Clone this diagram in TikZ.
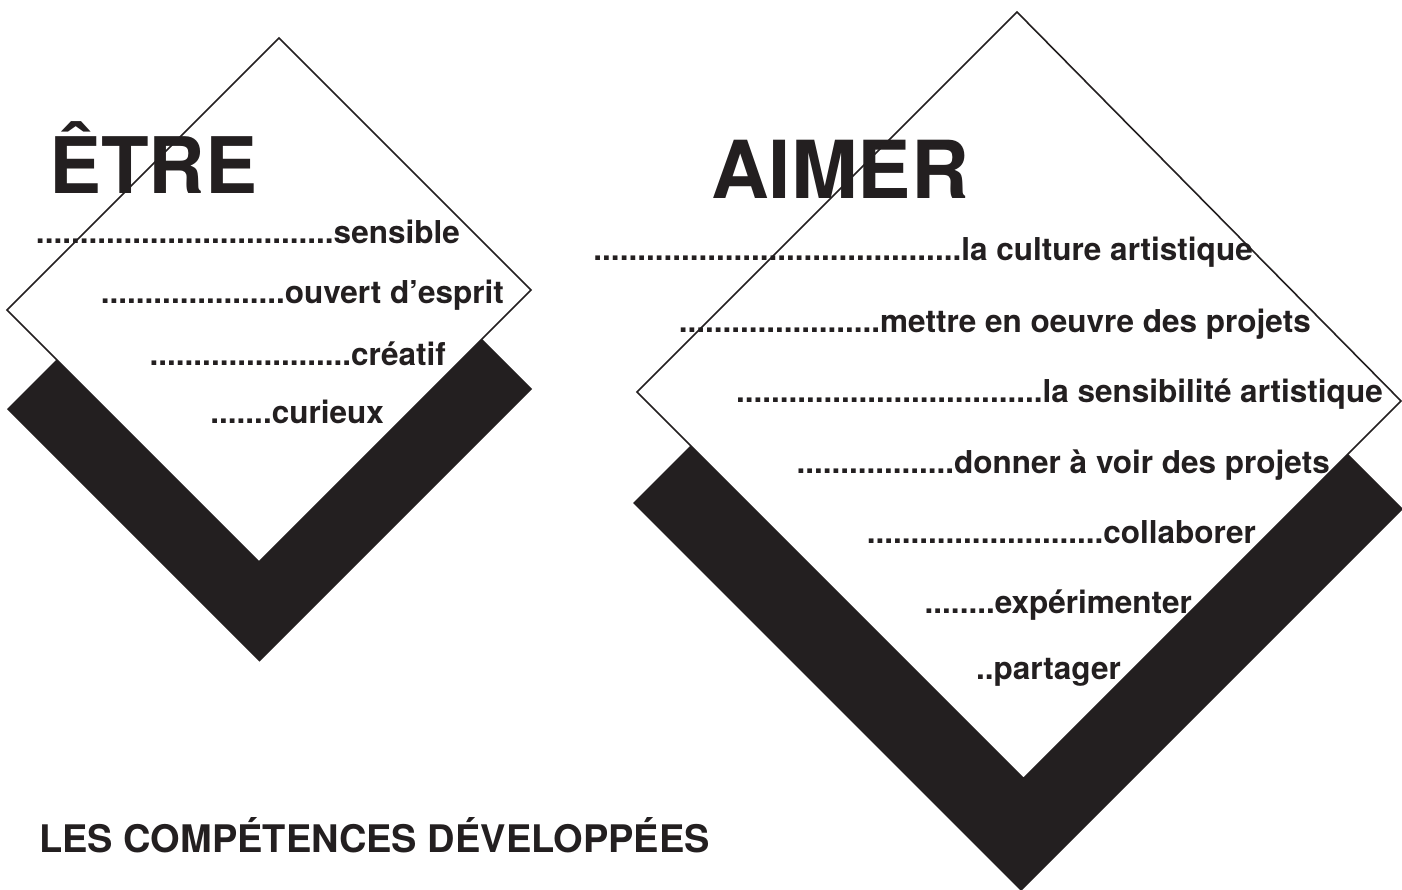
\documentclass[tikz,border=0pt]{standalone}
\usepackage{fontspec}
\setmainfont{TeX Gyre Heros}
\definecolor{ink}{RGB}{35,31,32}
\tikzset{
  shadow/.style={fill=ink, draw=none},
  panel/.style={fill=white, draw=ink, line width=1.6pt, line join=miter},
  item/.style={anchor=base east, inner sep=0pt, text=ink, font=\fontsize{31.5}{36}\selectfont\bfseries},
  title/.style={anchor=base west, inner sep=0pt, text=ink, font=\fontsize{78}{90}\selectfont\bfseries},
  heading/.style={anchor=base west, inner sep=0pt, text=ink, font=\fontsize{38}{42}\selectfont\bfseries}
}
\begin{document}
\begin{tikzpicture}[x=1pt,y=-1pt]
\useasboundingbox (0,0) rectangle (1402,889);
\clip (0,0) rectangle (1402,889);
% left figure
\fill[shadow] (279.5,136.5) -- (532,389) -- (259.5,661.5) -- (7,409) -- cycle;
\draw[panel] (279,38) -- (531,290) -- (259,562) -- (7,310) -- cycle;
\node[title] (etre) at (49,193) {ÊTRE};
\node[item] (l1) at (460,243) {..................................sensible};
\node[item] (l2) at (504,303) {.....................ouvert d’esprit};
\node[item] (l3) at (446,365) {.......................créatif};
\node[item] (l4) at (384,423) {.......curieux};
% right figure
\fill[shadow] (1015,121) -- (1403,509) -- (1021,891) -- (633,503) -- cycle;
\draw[panel] (1017,12) -- (1401,401) -- (1023.5,778.5) -- (637,392) -- cycle;
\node[title, font=\fontsize{80}{90}\selectfont\bfseries] (aimer) at (711,198) {AIMER};
\node[item] (r1) at (1253,260) {..........................................la culture artistique};
\node[item] (r2) at (1311,332) {.......................mettre en oeuvre des projets};
\node[item] (r3) at (1383,402) {...................................la sensibilité artistique};
\node[item] (r4) at (1330,473) {..................donner à voir des projets};
\node[item] (r5) at (1256,543) {...........................collaborer};
\node[item] (r6) at (1192,613) {........expérimenter};
\node[item] (r7) at (1121,679) {..partager};
% heading
\node[heading] (head) at (39,852) {LES COMPÉTENCES DÉVELOPPÉES};
\end{tikzpicture}
\end{document}
